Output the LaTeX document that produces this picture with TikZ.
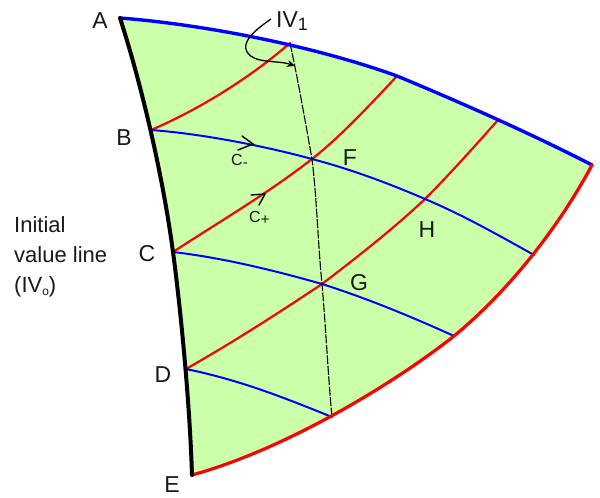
\documentclass[tikz,border=0pt]{standalone}
\usepackage{fontspec}
\setmainfont{Liberation Sans}
\usetikzlibrary{arrows.meta}
\definecolor{lawn}{RGB}{204,255,170}
\tikzset{
 redline/.style={red,line width=2.2pt,line cap=round},
 blueline/.style={blue,line width=2pt,line cap=round},
 bigblue/.style={blue,line width=3.4pt,line cap=round},
 bigred/.style={red,line width=3.2pt,line cap=round},
 bigblack/.style={black,line width=4pt,line cap=round},
 dashline/.style={black,line width=1.1pt,dash pattern=on 9pt off 1.5pt},
 lab/.style={font=\fontsize{23}{25}\selectfont,inner sep=0pt,text=black!90},
 small/.style={font=\fontsize{16}{18}\selectfont,inner sep=0pt,text=black!90},
 side/.style={font=\fontsize{22}{24}\selectfont,inner sep=0pt,text=black!90,anchor=base west},
 thinarrow/.style={black,line width=1.4pt,line cap=round},
}
\begin{document}
\begin{tikzpicture}[x=1pt,y=-1pt]
\useasboundingbox (0,0) rectangle (600,498);
\coordinate (A) at (120,18);
\coordinate (B) at (151,130);
\coordinate (C) at (173,252);
\coordinate (D) at (186,369);
\coordinate (E) at (192,475);
\coordinate (T1) at (290,43);
\coordinate (T2) at (397,76);
\coordinate (T3) at (498,120);
\coordinate (R) at (592,165);
\coordinate (R1) at (534,255);
\coordinate (R2) at (454,336);
\coordinate (R3) at (332,417);
\coordinate (F) at (312,159);
\coordinate (G) at (322,284);
\coordinate (H) at (425,199);
% fill
\fill[lawn] (A) .. controls (210,25) and (320,48) .. (T2)
 .. controls (455,100) and (530,133) .. (R)
 .. controls (560,225) and (510,290) .. (R2)
 .. controls (400,379) and (290,448) .. (E)
 .. controls (190,410) and (182,320) .. (C)
 .. controls (162,170) and (140,80) .. (A) -- cycle;
% red characteristics
\draw[redline] (B) .. controls (198,110) and (250,78) .. (T1);
\draw[redline] (C) .. controls (222,220) and (267,194) .. (F) .. controls (340,137) and (370,105) .. (T2);
\draw[redline] (D) .. controls (235,341) and (277,314) .. (G) .. controls (356,258) and (392,230) .. (H) .. controls (449,175) and (474,147) .. (T3);
% blue characteristics
\draw[blueline] (B) .. controls (205,134) and (268,147) .. (F) .. controls (350,169) and (388,183) .. (H) .. controls (463,215) and (500,236) .. (R1);
\draw[blueline] (C) .. controls (225,258) and (280,272) .. (G) .. controls (366,298) and (410,316) .. (R2);
\draw[blueline] (D) .. controls (240,380) and (285,398) .. (R3);
% IV1 dashed
\draw[dashline] (T1) .. controls (298,80) and (305,120) .. (F) .. controls (317,200) and (318,245) .. (G) .. controls (326,330) and (328,375) .. (R3);
% boundaries
\draw[bigblue] (A) .. controls (210,25) and (320,48) .. (T2)
 .. controls (455,100) and (530,133) .. (R);
\draw[bigred] (R) .. controls (560,225) and (510,290) .. (R2)
 .. controls (400,379) and (290,448) .. (E);
\draw[bigblack] (A) .. controls (140,80) and (162,170) .. (C)
 .. controls (182,320) and (190,410) .. (E);
% arrow chevrons
\coordinate (ca1) at (242,136);
\coordinate (ca2) at (253,144);
\coordinate (ca3) at (238,150);
\draw[thinarrow] (ca1) -- (ca2) -- (ca3);
\coordinate (cb1) at (251,195);
\coordinate (cb2) at (265,194);
\coordinate (cb3) at (259,205);
\draw[thinarrow] (cb1) -- (cb2) -- (cb3);
% IV1 leader
\coordinate (lead) at (271,19);
\coordinate (tip) at (295,66);
\draw[black,line width=1.3pt,-{Stealth[length=8pt,width=7pt]}] (lead) .. controls (255,30) and (241,42) .. (247,52) .. controls (254,64) and (278,60) .. (tip);
% labels
\node[lab,anchor=base] (lA) at (100,28) {A};
\node[lab,anchor=base] (lB) at (124,145) {B};
\node[lab,anchor=base] (lC) at (147,261) {C};
\node[lab,anchor=base] (lD) at (163,382) {D};
\node[lab,anchor=base] (lE) at (172,492) {E};
\node[lab,anchor=base] (lF) at (350,165) {F};
\node[lab,anchor=base] (lG) at (359,290) {G};
\node[lab,anchor=base] (lH) at (427,237) {H};
\node[small,anchor=base west] (lcm) at (231,165) {C\raisebox{-2pt}{\fontsize{15}{15}\selectfont -}};
\node[small,anchor=base west] (lcp) at (249,222) {C\raisebox{-2pt}{\fontsize{15}{15}\selectfont +}};
\node[anchor=base west,inner sep=0pt,font=\fontsize{23}{25}\selectfont,text=black!90] (liv) at (276,27) {IV\raisebox{-3pt}{\fontsize{18}{18}\selectfont 1}};
\node[side] (l1) at (14,232) {Initial};
\node[side] (l2) at (14,262) {value line};
\node[side] (l3) at (14,292) {(IV\raisebox{-3pt}{\fontsize{12}{12}\selectfont o})};
\end{tikzpicture}
\end{document}
